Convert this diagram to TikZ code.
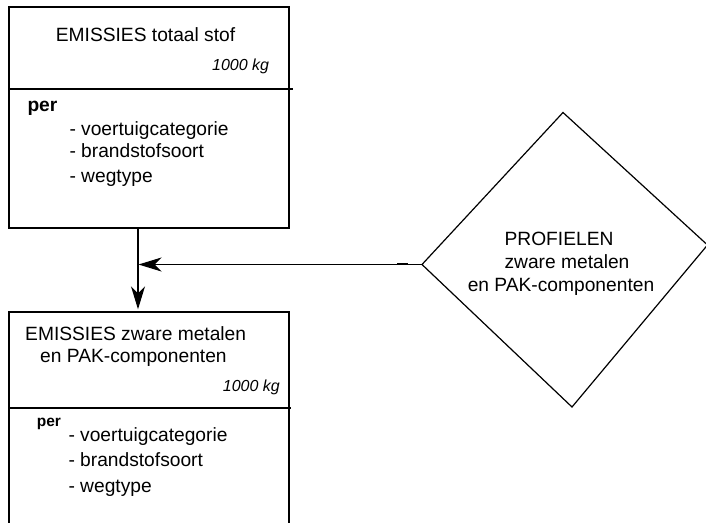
\documentclass[tikz,border=0pt]{standalone}
\usepackage{fontspec}
\setmainfont{Liberation Sans}
\usetikzlibrary{arrows.meta,calc}
\tikzset{
  box/.style={draw, line width=1.4pt, rectangle, inner sep=0pt},
  rule/.style={draw, line width=1.4pt},
  conn/.style={draw, line width=1.3pt, -{Stealth[length=23pt,width=14pt,inset=7pt]}},
  txt/.style={anchor=base west, inner sep=0pt, font=\fontsize{19.2}{22}\selectfont},
  mid/.style={anchor=base, inner sep=0pt, font=\fontsize{19.2}{22}\selectfont},
  unit/.style={anchor=base east, inner sep=0pt, font=\fontsize{16}{18}\selectfont\itshape},
  perb/.style={anchor=base west, inner sep=0pt, font=\fontsize{19.2}{22}\selectfont\bfseries},
  pers/.style={anchor=base west, inner sep=0pt, font=\fontsize{15.5}{17}\selectfont\bfseries}
}
\begin{document}
\begin{tikzpicture}[x=1pt,y=-1pt]
  \useasboundingbox (0,0) rectangle (706,522);

  % boxes
  \node[box, minimum width=280pt, minimum height=221pt] (stof) at (149,117.5) {};
  \node[box, minimum width=280pt, minimum height=228pt] (metaal) at (149,426) {};
  \draw[rule] (stof.west |- 0,89) -- (293,89);
  \draw[rule] (metaal.west |- 0,408) -- (291,408);

  % top box text
  \node[txt] (stoftitel) at (55.7,41.7) {EMISSIES totaal stof};
  \node[unit] (stofeenheid) at (269.3,70.7) {1000 kg};
  \node[perb] (stofper) at (27.3,111.7) {per};
  \node[txt] (stofcat) at (69.3,135) {- voertuigcategorie};
  \node[txt] (stofbrand) at (69.3,157.3) {- brandstofsoort};
  \node[txt] (stofweg) at (69.3,182.7) {- wegtype};

  % bottom box text
  \node[txt] (metaaltitel) at (25,340) {EMISSIES zware metalen};
  \node[txt] (metaaltitelb) at (40,362.7) {en PAK-componenten};
  \node[unit] (metaaleenheid) at (280,391.7) {1000 kg};
  \node[pers] (metaalper) at (36.7,426.7) {per};
  \node[txt] (metaalcat) at (68.3,441.7) {- voertuigcategorie};
  \node[txt] (metaalbrand) at (68.3,466.7) {- brandstofsoort};
  \node[txt] (metaalweg) at (68.3,492.7) {- wegtype};

  % diamond
  \coordinate (pT) at (563,112.5);
  \coordinate (pL) at (422,264.5);
  \coordinate (pB) at (572,407);
  \coordinate (pR) at (707.5,245);
  \draw[line width=1.2pt, line join=miter] (pT) -- (pL) -- (pB) -- (pR) -- cycle;
  \node[mid] (profiel) at (559,245) {PROFIELEN};
  \node[mid] (profielb) at (567,268.3) {zware metalen};
  \node[mid] (profielc) at (561,291.7) {en PAK-componenten};

  % connectors
  \coordinate (join) at (138,264.5);
  \draw[conn] (join |- stof.south) -- ($(join |- metaal.north)+(0,-2)$);
  \draw[conn] (pL) -- ($(join)+(0.5,0)$);
  \draw[line width=2.4pt] (397,264) -- (408,264);
\end{tikzpicture}
\end{document}
